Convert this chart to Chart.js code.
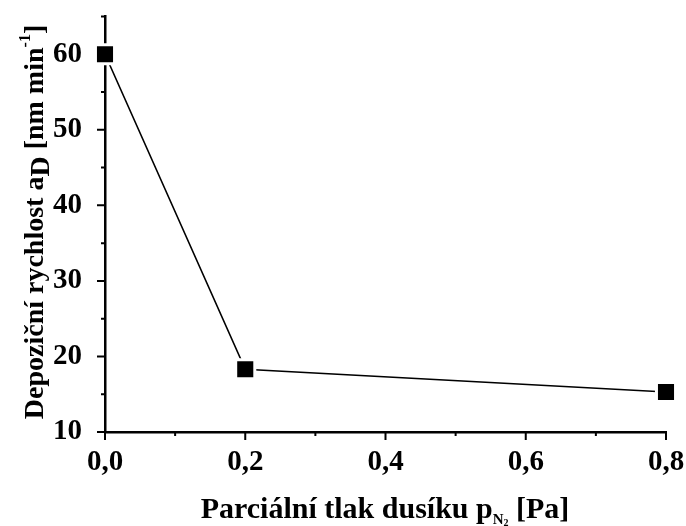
<!DOCTYPE html>
<html>
<head>
<meta charset="utf-8">
<script src="https://cdn.jsdelivr.net/npm/chart.js@4"></script>
<style>
  html, body { margin: 0; padding: 0; background: #fff; }
  #wrap { width: 686px; height: 526px; }
</style>
</head>
<body>
<div id="wrap"><canvas id="myChart" width="686" height="526"></canvas></div>
<script>
// data
let pressure = [0.0, 0.2, 0.8];        // p N2 [Pa]
let rate = [60.0, 18.3, 15.3];          // a_D [nm/min]
let xMajor = [0, 0.2, 0.4, 0.6, 0.8];
let xMinor = [0.1, 0.3, 0.5, 0.7];
let yMajor = [10, 20, 30, 40, 50, 60];
let yMinor = [15, 25, 35, 45, 55, 65];

const serif = '"Liberation Serif", "Times New Roman", serif';

// draws the short tick marks and the axis titles (they have sub/superscripts)
const extras = {
  id: 'extras',
  afterDraw(chart) {
    const ctx = chart.ctx;
    const x = chart.scales.x, y = chart.scales.y;
    const area = chart.chartArea;
    ctx.save();
    ctx.strokeStyle = '#000';
    ctx.lineWidth = 2;
    ctx.beginPath();
    xMajor.forEach(v => { let p = x.getPixelForValue(v); ctx.moveTo(p, area.bottom); ctx.lineTo(p, area.bottom + 8); });
    xMinor.forEach(v => { let p = x.getPixelForValue(v); ctx.moveTo(p, area.bottom); ctx.lineTo(p, area.bottom + 4); });
    yMajor.forEach(v => { let p = y.getPixelForValue(v); ctx.moveTo(area.left, p); ctx.lineTo(area.left - 8, p); });
    yMinor.forEach(v => { let p = y.getPixelForValue(v); ctx.moveTo(area.left, p); ctx.lineTo(area.left - 4, p); });
    ctx.stroke();

    ctx.fillStyle = '#000';
    ctx.textBaseline = 'alphabetic';

    // x title
    let parts = [
      ['Parciální tlak dusíku p', 30, 0],
      ['N', 15, 6],
      ['2', 10, 8],
      [' [Pa]', 30, 0]
    ];
    drawParts(ctx, parts, 385, 518, 0);

    // y title, rotated
    let yparts = [
      ['Depoziční rychlost a', 28, 0],
      ['D', 28, 6],
      [' [nm min', 28, 0],
      ['-1', 16, -13],
      [']', 28, 0]
    ];
    drawParts(ctx, yparts, 43, 222, -Math.PI / 2);
    ctx.restore();
  }
};

function drawParts(ctx, parts, cx, cy, rot) {
  let total = 0;
  parts.forEach(p => {
    ctx.font = 'bold ' + p[1] + 'px ' + serif;
    total += ctx.measureText(p[0]).width;
  });
  ctx.save();
  ctx.translate(cx, cy);
  ctx.rotate(rot);
  let pos = -total / 2;
  parts.forEach(p => {
    ctx.font = 'bold ' + p[1] + 'px ' + serif;
    ctx.textAlign = 'left';
    ctx.fillText(p[0], pos, p[2]);
    pos += ctx.measureText(p[0]).width;
  });
  ctx.restore();
}

function createChart() {
  const ctx = document.getElementById('myChart');
  new Chart(ctx, {
    type: 'line',
    data: {
      datasets: [{
        data: pressure.map((v, i) => ({ x: v, y: rate[i] })),
        borderColor: '#000',
        borderWidth: 1.6,
        backgroundColor: '#000',
        pointStyle: 'rect',
        pointRadius: 13.5,
        pointBorderColor: '#fff',
        pointBorderWidth: 3,
        pointBackgroundColor: '#000',
        tension: 0,
        clip: false
      }]
    },
    options: {
      responsive: false,
      animation: false,
      layout: { padding: { top: 15, right: 20, left: 0, bottom: 0 } },
      plugins: { legend: { display: false }, tooltip: { enabled: false } },
      scales: {
        x: {
          type: 'linear',
          min: 0, max: 0.8,
          afterFit: s => { s.height = 94; s.paddingLeft = 0; s.paddingRight = 0; },
          grid: { display: false },
          border: { display: true, color: '#000', width: 2.5 },
          ticks: {
            stepSize: 0.2,
            padding: 5,
            color: '#000',
            font: { family: serif, size: 29, weight: 'bold' },
            maxRotation: 0,
            callback: v => v.toFixed(1).replace('.', ',')
          }
        },
        y: {
          type: 'linear',
          min: 10, max: 65,
          afterFit: s => { s.width = 105; s.paddingTop = 0; s.paddingBottom = 0; },
          grid: { display: false },
          border: { display: true, color: '#000', width: 2.5 },
          ticks: {
            stepSize: 10,
            includeBounds: false,
            padding: 15,
            color: '#000',
            font: { family: serif, size: 29, weight: 'bold' }
          }
        }
      }
    },
    plugins: [extras]
  });
}
createChart();
</script>
</body>
</html>
